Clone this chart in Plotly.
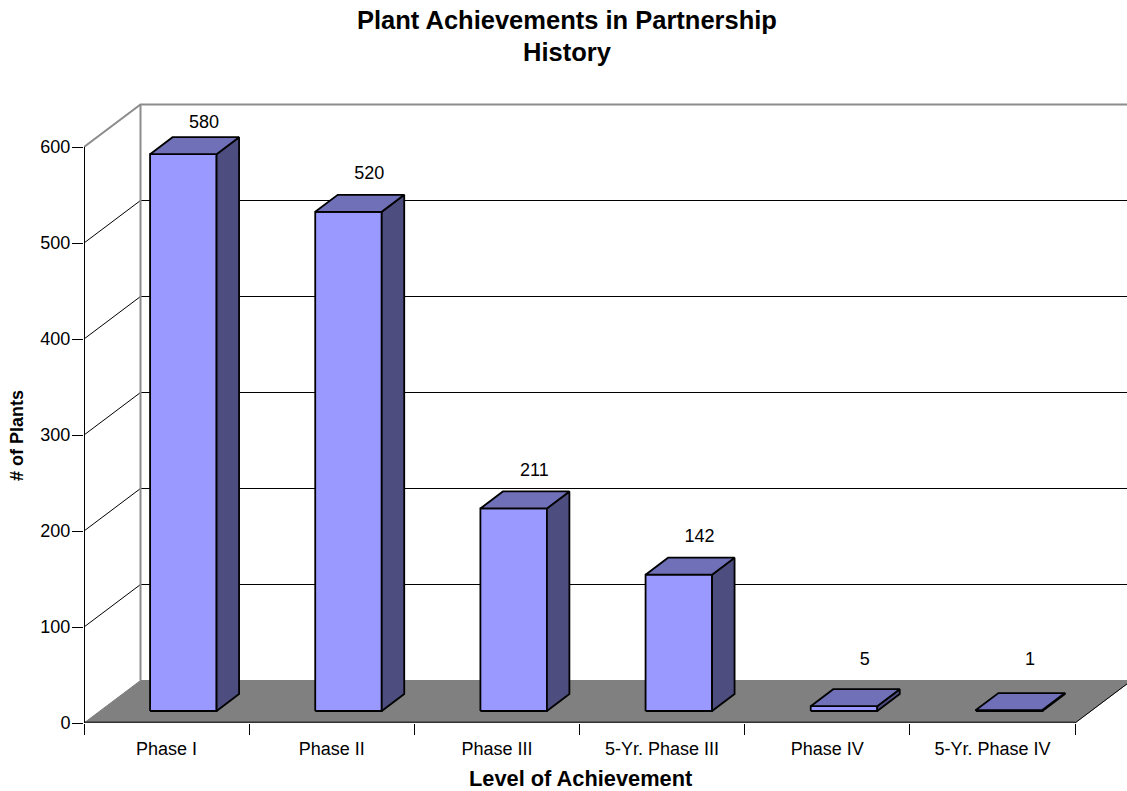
import plotly.graph_objects as go

categories = ["Phase I", "Phase II", "Phase III", "5-Yr. Phase III", "Phase IV", "5-Yr. Phase IV"]
plants = [580, 520, 211, 142, 5, 1]
y_ticks = [0, 100, 200, 300, 400, 500, 600]
chart_title = ["Plant Achievements in Partnership", "History"]
x_title = "Level of Achievement"
y_title = "# of Plants"

PX_X = 991 / 6        # pixels per category
PX_Y = 0.96           # pixels per plant
WALL_DX = 56.5 / PX_X
WALL_DY = 42.5 / PX_Y
BAR_X0 = 0.40
BAR_W = 66.5 / PX_X
BAR_Y0 = 12 / PX_Y
BAR_DX = 22.5 / PX_X
BAR_DY = 17 / PX_Y
W, H = 1127, 791
M_L, M_B, M_T = 84, 68, 90
X_MAX = (W - M_L) / PX_X
Y_MAX = (H - M_B - M_T) / PX_Y
FRONT, TOP, SIDE, FLOOR = "#9999FF", "#7070B8", "#4D4D80", "#808080"
FONT = "Liberation Sans, Arial, sans-serif"

fig = go.Figure()


def line(xs, ys, color="black", width=1):
    fig.add_trace(go.Scatter(x=xs, y=ys, mode="lines", line=dict(color=color, width=width),
                             hoverinfo="skip", showlegend=False))


def poly(xs, ys, fill, color="black", width=1.8):
    fig.add_trace(go.Scatter(x=xs + xs[:1], y=ys + ys[:1], mode="lines", fill="toself", fillcolor=fill,
                             line=dict(color=color, width=width), hoverinfo="skip",
                             showlegend=False))


def label(text, px, py, size, angle=0):
    # page pixel position turned into the plot area's paper fractions
    return dict(text=f"<b>{text}</b>", x=(px - M_L) / (W - M_L), y=(H - M_B - py) / (H - M_B - M_T),
                xref="paper", yref="paper", xanchor="center", yanchor="middle", textangle=angle,
                showarrow=False, font=dict(family=FONT, size=size))


n = len(categories)
top_v = y_ticks[-1]

# walls and gridlines
for v in y_ticks[1:-1]:
    line([0, WALL_DX, X_MAX + 1], [v, v + WALL_DY, v + WALL_DY])
line([0, WALL_DX, X_MAX + 1], [top_v, top_v + WALL_DY, top_v + WALL_DY], "#8C8C8C", 2)
line([WALL_DX, WALL_DX], [WALL_DY, top_v + WALL_DY], "#8C8C8C", 2)

# floor
poly([0, n, n + WALL_DX, WALL_DX], [0, 0, WALL_DY, WALL_DY], FLOOR, FLOOR, 1)
line([n, n + WALL_DX], [0, WALL_DY], "black", 1)
line([0, n], [0, 0], "#333333", 3)
line([0, 0], [0, top_v], "black", 2)

# bars
for i, v in enumerate(plants):
    x0 = i + BAR_X0
    x1 = x0 + BAR_W
    y0 = BAR_Y0
    y1 = BAR_Y0 + v
    poly([x0, x1, x1, x0], [y0, y0, y1, y1], FRONT)
    poly([x1, x1 + BAR_DX, x1 + BAR_DX, x1], [y0, y0 + BAR_DY, y1 + BAR_DY, y1], SIDE)
    poly([x0, x1, x1 + BAR_DX, x0 + BAR_DX], [y1, y1, y1 + BAR_DY, y1 + BAR_DY], TOP)

# value labels
fig.add_trace(go.Scatter(
    x=[i + 0.5 + 0.1 + 21 / PX_X for i in range(n)],
    y=[min(max(v + 51.5, 65), 625) for v in plants],
    mode="text", text=[str(v) for v in plants], textposition="middle center",
    textfont=dict(family=FONT, size=18, color="black"),
    hoverinfo="skip", showlegend=False))

fig.update_layout(
    width=W, height=H, autosize=False,
    margin=dict(l=M_L, r=0, t=M_T, b=M_B),
    paper_bgcolor="white", plot_bgcolor="white",
    font=dict(family=FONT, color="black"),
    showlegend=False,
    xaxis=dict(
        range=[0, X_MAX], showgrid=False, zeroline=False, showline=False,
        tickmode="array", tickvals=[i + 0.5 for i in range(n)], ticktext=categories,
        ticks="", tickfont=dict(family=FONT, size=18), ticklabelstandoff=13,
        minor=dict(tickmode="array", tickvals=list(range(n + 1)), ticks="outside",
                   ticklen=11, tickcolor="black", tickwidth=1, showgrid=False),
        fixedrange=True,
    ),
    yaxis=dict(
        range=[0, Y_MAX], showgrid=False, zeroline=False, showline=False,
        tickmode="array", tickvals=y_ticks, ticks="outside", ticklen=11,
        tickcolor="black", tickwidth=1, tickfont=dict(family=FONT, size=18),
        ticklabelstandoff=-2, fixedrange=True,
    ),
    annotations=[
        label(chart_title[0], 567, 20, 25.5),
        label(chart_title[1], 567, 52, 25.5),
        label(x_title, 580, 778, 21.8),
        label(y_title, 17, 436, 18, -90),
    ],
)

fig.write_html("out.html", config={"displayModeBar": False},
               post_script="document.body.style.margin='0';")
